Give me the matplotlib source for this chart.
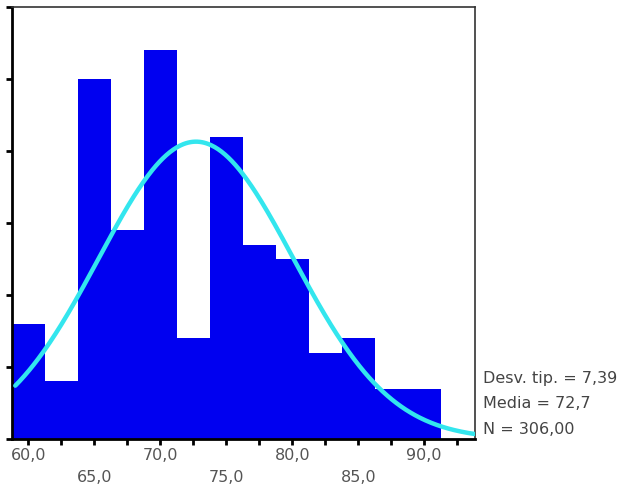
import numpy as np
import matplotlib
matplotlib.use("Agg")
import matplotlib.pyplot as plt
from matplotlib.transforms import blended_transform_factory

# Data
bin_centers = [60.0, 62.5, 65.0, 67.5, 70.0, 72.5, 75.0, 77.5, 80.0, 82.5, 85.0, 87.5, 90.0]
counts = [16, 8, 50, 29, 54, 14, 42, 27, 25, 12, 14, 7, 7]
bin_width = 2.5
mean_val = 72.7
std_val = 7.39
n_total = 306
tick_labels_upper = ["60,0", "70,0", "80,0", "90,0"]
tick_labels_lower = ["65,0", "75,0", "85,0"]
stats_text = ["Desv. tip. = 7,39", "Media = 72,7", "N = 306,00"]

fig = plt.figure(figsize=(6.34, 4.92), dpi=100)
W, H = 634, 492
ax = fig.add_axes([12 / W, (H - 439) / H, (475 - 12) / W, (439 - 7) / H])

ax.bar(bin_centers, counts, width=bin_width, color="#0000f0", edgecolor="none", zorder=2)

x0, x1 = 58.75, 93.85
xs = np.linspace(59.0, x1, 400)
ys = n_total * bin_width / (std_val * np.sqrt(2 * np.pi)) * np.exp(-0.5 * ((xs - mean_val) / std_val) ** 2)
ax.plot(xs, ys, color="#33e6ee", lw=3.2, solid_capstyle="round", zorder=3)

ax.set_xlim(x0, x1)
ax.set_ylim(0, 60)

ax.set_yticks(np.arange(0, 61, 10))
ax.set_yticklabels([])
ax.set_xticks(np.arange(60, 93, 2.5))
ax.set_xticklabels([])
ax.tick_params(axis="both", direction="out", length=4, width=2, color="black")

for s in ["left", "bottom"]:
    ax.spines[s].set_linewidth(2)
    ax.spines[s].set_color("black")
for s in ["top", "right"]:
    ax.spines[s].set_linewidth(1.2)
    ax.spines[s].set_color("#333333")

trans = blended_transform_factory(ax.transData, fig.transFigure)
for i, lab in enumerate(tick_labels_upper):
    ax.text(60 + 10 * i, 1 - 455 / H, lab, transform=trans, ha="center", va="center",
            fontsize=11.5, color="#555555", family="DejaVu Sans")
for i, lab in enumerate(tick_labels_lower):
    ax.text(65 + 10 * i, 1 - 478 / H, lab, transform=trans, ha="center", va="center",
            fontsize=11.5, color="#555555", family="DejaVu Sans")

for i, t in enumerate(stats_text):
    fig.text(483 / W, 1 - (378 + 25.5 * i) / H, t, ha="left", va="center",
             fontsize=11.5, color="#444444", family="DejaVu Sans")

fig.savefig("out.png", dpi=100)
